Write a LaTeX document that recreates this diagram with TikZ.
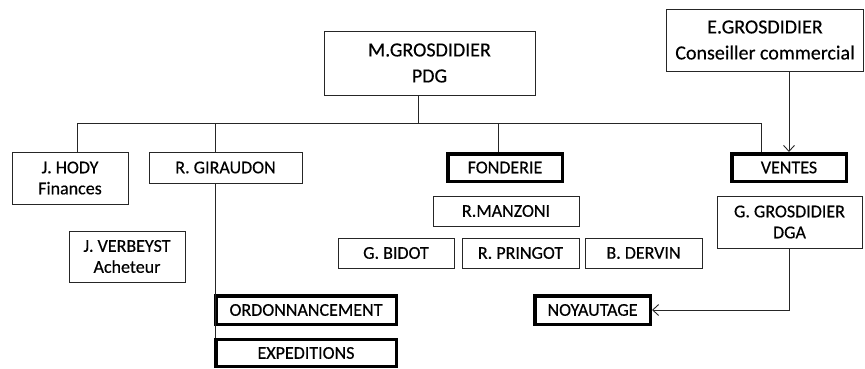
\documentclass[tikz,border=0pt]{standalone}
\usepackage{fontspec}
\setmainfont{Carlito}
\usetikzlibrary{arrows.meta}
\begin{document}
\begin{tikzpicture}[x=1pt,y=-1pt,
  box/.style={draw=black!85, line width=0.9pt, fill=white, inner sep=0pt, align=center,
    font=\fontsize{18}{21}\selectfont\addfontfeature{FakeBold=0.4}, text=black},
  boldbox/.style={box, line width=3.5pt, draw=black},
  bigbox/.style={box, font=\fontsize{20}{26}\selectfont\addfontfeature{FakeBold=0.3}},
  conn/.style={draw=black!85, line width=0.9pt},
  arr/.style={conn, -{Straight Barb[length=6pt,width=11pt]}}]
\useasboundingbox (0,0) rectangle (865,369);

% nodes
\node[bigbox, minimum width=211pt, minimum height=64pt] (pdg) at (429.5,63) {M.GROSDIDIER\\PDG};
\node[bigbox, minimum width=197pt, minimum height=62pt] (egros) at (765,40) {E.GROSDIDIER\\Conseiller commercial};
\node[box, minimum width=116pt, minimum height=52pt] (hody) at (70,178) {J. HODY\\Finances};
\node[box, minimum width=153pt, minimum height=31pt] (gir) at (225.5,167.5) {R. GIRAUDON};
\node[box, minimum width=116pt, minimum height=51pt] (verb) at (127,256.5) {J. VERBEYST\\Acheteur};
\node[boldbox, minimum width=180.5pt, minimum height=28.5pt] (ordo) at (306,310) {ORDONNANCEMENT};
\node[boldbox, minimum width=180.5pt, minimum height=27pt] (exped) at (306,353) {EXPEDITIONS};
\node[boldbox, minimum width=114.5pt, minimum height=27.5pt] (fond) at (505,167.5) {FONDERIE};
\node[boldbox, minimum width=114.5pt, minimum height=27.5pt] (ventes) at (789,167.5) {VENTES};
\node[box, minimum width=146pt, minimum height=30pt] (manz) at (506,211) {R.MANZONI};
\node[box, minimum width=116pt, minimum height=30pt] (bidot) at (396,253) {G. BIDOT};
\node[box, minimum width=117pt, minimum height=30pt] (pring) at (520.5,253) {R. PRINGOT};
\node[box, minimum width=117pt, minimum height=30pt] (dervin) at (643.5,253) {B. DERVIN};
\node[box, minimum width=145pt, minimum height=52pt] (dga) at (789.5,222) {G. GROSDIDIER\\DGA};
\node[boldbox, minimum width=115.5pt, minimum height=28.5pt] (noyau) at (592.5,310) {NOYAUTAGE};

% bus coordinates
\coordinate (busL) at (77,123);
\coordinate (busG) at (215,123);
\coordinate (busP) at (418,123);
\coordinate (busF) at (498,123);
\coordinate (busR) at (761,123);

% connectors
\draw[conn] (busP |- pdg.south) -- (busP);
\draw[conn] (busL) -- (busR);
\draw[conn] (busL) -- (busL |- hody.north);
\draw[conn] (busG) -- (busG |- gir.north);
\draw[conn] (busG |- gir.south) -- (busG |- exped.north);
\draw[conn] (busF) -- (busF |- fond.north);
\draw[conn] (busR) -- (busR |- ventes.north);
\draw[arr] (ventes.north |- egros.south) -- (ventes.north);
\draw[arr] (dga.south) |- (noyau.east);
\end{tikzpicture}
\end{document}
